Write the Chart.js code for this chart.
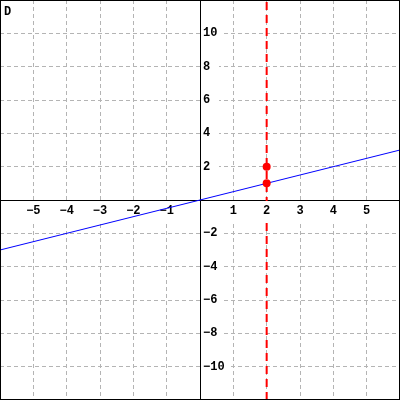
<!DOCTYPE html>
<html>
<head>
<meta charset="utf-8">
<script src="https://cdn.jsdelivr.net/npm/chart.js@4.4.1/dist/chart.umd.min.js"></script>
<style>
  html, body { margin: 0; padding: 0; background: #fff; }
  #wrap { width: 400px; height: 400px; }
</style>
</head>
<body>
<div id="wrap"><canvas id="graph" width="400" height="400"></canvas></div>
<script>
// line y = x/2
const lineX = [-6, 6];
const lineY = [-3, 3];
// dashed vertical x = 2
const vertX = [2, 2];
const vertY = [-12, 12];
// marked points
const dotX = [2, 2];
const dotY = [1, 2];
// tick labels
const xLabels = [-5, -4, -3, -2, -1, 1, 2, 3, 4, 5];
const yLabels = [-10, -8, -6, -4, -2, 2, 4, 6, 8, 10];
const cornerText = "D";

const toPoints = (xs, ys) => xs.map((x, i) => ({ x: x, y: ys[i] }));

//---------------------------------------------------
// Labels + frame
//---------------------------------------------------
const FONT = "bold 12px 'Liberation Mono', 'DejaVu Sans Mono', monospace";

function txt(v) {
  return String(v).replace("-", "\u2212");
}

const labelPlugin = {
  id: "labels",
  afterDatasetDraw(chart, args) {
    if (args.index !== 2) return;
    const ctx = chart.ctx;
    const xs = chart.scales.x;
    const ys = chart.scales.y;
    const x0 = xs.getPixelForValue(0);
    const y0 = ys.getPixelForValue(0);
    ctx.save();
    ctx.font = FONT;
    ctx.textBaseline = "middle";

    xLabels.forEach((v) => {
      const s = txt(v);
      const px = xs.getPixelForValue(v);
      const w = ctx.measureText(s).width;
      ctx.fillStyle = "#fff";
      ctx.fillRect(px - w / 2 - 3, y0 + 1, w + 6, 20);
      ctx.fillStyle = "#000";
      ctx.textAlign = "center";
      ctx.fillText(s, px, y0 + 11);
    });

    yLabels.forEach((v) => {
      const s = txt(v);
      const py = ys.getPixelForValue(v);
      const w = ctx.measureText(s).width;
      ctx.fillStyle = "#fff";
      ctx.fillRect(x0 + 1, py - 7, Math.max(w + 6, 18), 14);
      ctx.fillStyle = "#000";
      ctx.textAlign = "left";
      ctx.fillText(s, x0 + 3, py);
    });

    ctx.textAlign = "left";
    ctx.fillText(cornerText, 4, 12);
    ctx.restore();
  },
  afterDraw(chart) {
    const ctx = chart.ctx;
    ctx.save();
    ctx.strokeStyle = "#000";
    ctx.lineWidth = 1;
    ctx.strokeRect(0.5, 0.5, 399, 399);
    ctx.restore();
  },
};

//---------------------------------------------------
// Chart
//---------------------------------------------------
const gridColor = "#b4b4b4";

new Chart(document.getElementById("graph"), {
  type: "scatter",
  data: {
    datasets: [
      {
        data: toPoints(dotX, dotY),
        backgroundColor: "#ff0000",
        borderColor: "#ff0000",
        pointRadius: 4,
        pointBorderWidth: 0,
        order: 0,
      },
      {
        data: toPoints(lineX, lineY),
        showLine: true,
        borderColor: "#0000ff",
        borderWidth: 1,
        pointRadius: 0,
        order: 1,
      },
      {
        data: toPoints(vertX, vertY),
        showLine: true,
        borderColor: "#ff0000",
        borderWidth: 2,
        borderDash: [8, 5],
        pointRadius: 0,
        order: 2,
      },
    ],
  },
  options: {
    responsive: false,
    animation: false,
    devicePixelRatio: 1,
    layout: { padding: 0, autoPadding: false },
    plugins: {
      legend: { display: false },
      tooltip: { enabled: false },
    },
    scales: {
      x: {
        type: "linear",
        min: -6,
        max: 6,
        position: { y: 0 },
        ticks: { stepSize: 1, display: false },
        grid: { color: gridColor, lineWidth: 1, drawTicks: false },
        border: { display: true, color: "#000", width: 1, dash: [4, 3] },
      },
      y: {
        type: "linear",
        min: -12,
        max: 12,
        position: { x: 0 },
        ticks: { stepSize: 2, display: false },
        grid: { color: gridColor, lineWidth: 1, drawTicks: false },
        border: { display: true, color: "#000", width: 1, dash: [4, 3] },
      },
    },
  },
  plugins: [labelPlugin],
});
</script>
</body>
</html>
